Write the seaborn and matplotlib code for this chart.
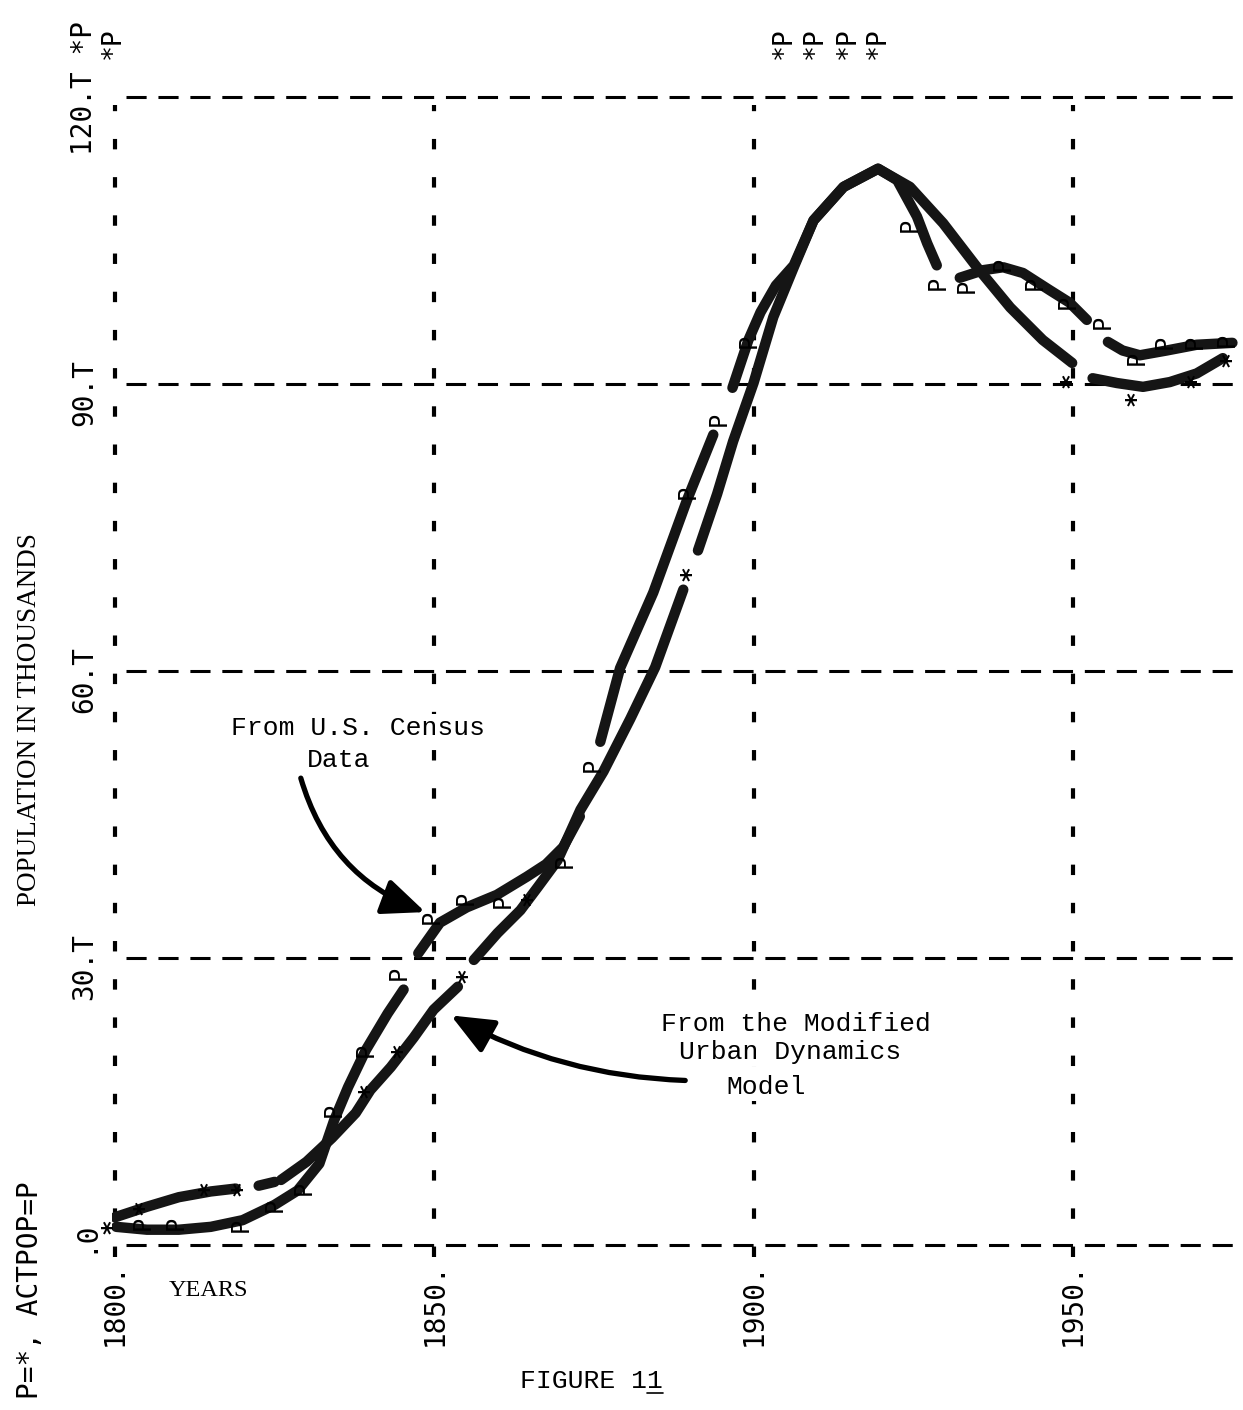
import matplotlib
matplotlib.use("Agg")
import matplotlib.pyplot as plt
from matplotlib import transforms
from matplotlib.lines import Line2D
import numpy as np
import pandas as pd
import seaborn as sns

# ---------------- data ----------------
# Model population (P, printed as "*"), hand-traced curve, pieces separated by segment id
model_year = [1800.0, 1805.0, 1810.0, 1815.0, 1818.9,
              1822.5, 1825.0,
              1826.0, 1830.0, 1834.0, 1837.7, 1840.0, 1843.2, 1846.8, 1849.9, 1853.7,
              1856.2, 1859.9, 1863.5, 1866.2, 1869.3, 1872.9, 1876.5, 1880.7, 1884.6, 1889.0,
              1891.3, 1894.3, 1896.8, 1900.0, 1903.1, 1906.3, 1909.4, 1914.1, 1919.5, 1924.5,
              1929.7, 1935.0, 1940.2, 1945.3, 1949.9,
              1953.1, 1956.9, 1961.0, 1965.2, 1969.4, 1973.5]
model_pop = [2.9, 4.0, 5.0, 5.6, 5.9,
             6.2, 6.6,
             6.8, 8.7, 11.2, 13.8, 16.2, 18.6, 21.7, 24.6, 27.0,
             29.8, 32.6, 35.0, 37.4, 40.2, 45.5, 49.5, 55.0, 60.4, 68.5,
             72.6, 78.5, 84.0, 90.1, 97.0, 102.2, 107.1, 110.6, 112.5, 110.6,
             106.8, 102.2, 98.0, 94.6, 92.2,
             90.6, 90.1, 89.7, 90.2, 91.1, 92.7]
model_seg = [0] * 5 + [1] * 2 + [2] * 9 + [3] * 10 + [4] * 15 + [5] * 6

# Actual population (ACTPOP, printed as "P"), hand-traced curve
actual_year = [1800.2, 1805.0, 1810.0, 1815.0, 1820.0, 1825.0, 1828.6, 1832.0, 1834.3,
               1836.5, 1839.3, 1842.7, 1845.2,
               1847.5, 1850.9, 1855.1, 1859.8, 1864.5, 1867.5, 1870.2, 1872.8,
               1876.0, 1879.1, 1884.3, 1889.6, 1893.7,
               1896.7, 1899.2, 1901.1, 1903.5, 1906.3, 1909.4, 1914.1, 1919.5, 1922.5,
               1925.6, 1927.2, 1928.7,
               1932.3, 1936.0, 1939.1, 1942.2, 1946.4, 1949.5, 1952.2,
               1955.5, 1957.8, 1960.5, 1964.7, 1969.4, 1975.0]
actual_pop = [1.9, 1.6, 1.6, 1.9, 2.6, 4.2, 5.7, 8.5, 13.0,
              16.5, 20.4, 24.2, 26.7,
              30.5, 33.7, 35.3, 36.6, 38.5, 39.8, 41.6, 44.8,
              52.6, 60.3, 68.2, 77.9, 84.7,
              89.6, 94.6, 97.5, 100.3, 102.4, 107.1, 110.6, 112.5, 111.3,
              107.5, 104.7, 102.4,
              101.1, 101.9, 102.2, 101.6, 99.8, 98.5, 96.7,
              94.4, 93.5, 93.0, 93.5, 94.1, 94.3]
actual_seg = [0] * 13 + [1] * 8 + [2] * 5 + [3] * 12 + [4] * 7 + [5] * 6

# printer symbols still visible on the plot
model_mark_year = [1799.7, 1804.7, 1814.9, 1820.1, 1840.0, 1845.2, 1855.3, 1865.5,
                   1890.4, 1950.0, 1960.2, 1969.6, 1975.0]
model_mark_pop = [2.0, 4.0, 6.0, 6.0, 16.2, 20.4, 28.2, 36.3,
                  70.2, 90.4, 88.5, 90.4, 92.6]
actual_mark_year = [1804.3, 1809.5, 1819.7, 1825.0, 1829.6, 1834.3, 1839.3, 1844.4,
                    1849.6, 1855.0, 1860.8, 1870.4, 1874.8, 1889.7, 1894.5, 1899.3,
                    1924.5, 1928.9, 1933.4, 1939.1, 1944.1, 1949.2, 1954.7, 1960.0,
                    1964.4, 1969.1, 1974.1]
actual_mark_pop = [2.3, 2.3, 2.1, 4.2, 6.0, 14.1, 20.4, 28.4,
                   34.3, 36.3, 36.0, 40.2, 50.2, 78.7, 86.4, 94.5,
                   106.6, 100.6, 100.3, 102.6, 100.6, 98.6, 96.5, 92.7,
                   94.4, 94.4, 94.6]

# overflow symbols printed above the top scale line
header_year = [1799.7, 1904.7, 1909.6, 1914.8, 1919.5]
header_text = ["*P", "*P", "*P", "*P", "*P"]

x_ticks = [1800, 1850, 1900, 1950]
x_tick_labels = ["1800.", "1850.", "1900.", "1950."]
y_ticks = [0, 30, 60, 90, 120]
y_tick_labels = [".0", "30.T", "60.T", "90.T", "120.T *P"]

# ---------------- styling ----------------
sns.set_theme(style="white")
plt.rcParams["font.family"] = ["DejaVu Sans"]
plt.rcParams["lines.scale_dashes"] = False

W, H = 1243, 1410
fig = plt.figure(figsize=(W / 100, H / 100), dpi=100)
left_px, right_px = 111.8, 1242.0
bot_px, top_px = 1256.5, 87.4
ax = fig.add_axes([left_px / W, 1 - bot_px / H, (right_px - left_px) / W, (bot_px - top_px) / H])
ax.set_xlim(1799.5, 1976.5)
ax.set_ylim(-1.2, 121.0)
for s in ax.spines.values():
    s.set_visible(False)
ax.set_facecolor("white")

mono = "DejaVu Sans Mono"
type_font = "Liberation Mono"
serif = "Liberation Serif"

# dashed printer grid
for yv in y_ticks:
    ax.axhline(yv, xmin=0.013, xmax=1.0, color="black", lw=2.2,
               ls=(0, (14.5, 8.5)), zorder=1)
for xv in x_ticks:
    ax.axvline(xv, ymin=0.0, ymax=0.985, color="black", lw=3.0,
               ls=(0, (7.5, 20.0)), zorder=1)

# hand-drawn curves
df_model = pd.DataFrame({"year": model_year, "pop": model_pop, "seg": model_seg})
df_actual = pd.DataFrame({"year": actual_year, "pop": actual_pop, "seg": actual_seg})
for df in (df_model, df_actual):
    sns.lineplot(data=df, x="year", y="pop", units="seg", estimator=None, sort=False,
                 color="#151515", linewidth=7.5, solid_capstyle="round",
                 legend=False, ax=ax, zorder=3)

# printer symbols
for xv, yv in zip(model_mark_year, model_mark_pop):
    ax.text(xv, yv, "*", rotation=90, ha="center", va="center", fontsize=19,
            family=mono, fontweight="bold", color="black", zorder=4)
for xv, yv in zip(actual_mark_year, actual_mark_pop):
    ax.text(xv, yv, "P", rotation=90, ha="center", va="center", fontsize=17,
            family=mono, color="black", zorder=4)
for xv, t in zip(header_year, header_text):
    ax.text(xv, 125.6, t, rotation=90, ha="center", va="center", fontsize=19,
            family=mono, color="black", clip_on=False)

# axis tick labels
ax.set_xticks(x_ticks, labels=x_tick_labels, rotation=90, fontsize=20, family=mono)
ax.tick_params(axis="x", length=0, pad=4, colors="black")
ax.set_yticks([])
ax.set_xlabel("")
ax.set_ylabel("")

fs_y = 20
adv = 0.602 * fs_y  # character advance in points
blend = transforms.blended_transform_factory(ax.transAxes, ax.transData)
for yv, lab in zip(y_ticks, y_tick_labels):
    k = lab.index(".")
    tr = transforms.offset_copy(blend, fig=fig, x=0, y=-(k + 0.5) * adv, units="points")
    ax.text(-0.0245, yv, lab, transform=tr, rotation=90, rotation_mode="anchor",
            ha="left", va="center", fontsize=fs_y, family=mono, color="black",
            clip_on=False)

# axis titles and caption
fig.text(30 / W, 1 - 720 / H, "POPULATION IN THOUSANDS", rotation=90, ha="center",
         va="center", fontsize=19.5, family=serif, color="black")
fig.text(30 / W, 1 - 1290 / H, "P=*, ACTPOP=P", rotation=90, ha="center",
         va="center", fontsize=20, family=mono, color="black")
fig.text(208 / W, 1 - 1291 / H, "YEARS", ha="center", va="center", fontsize=17.5,
         family=serif, color="black")
fig.text(591 / W, 1 - 1381 / H, "FIGURE 11", ha="center", va="center", fontsize=19,
         family=type_font, color="black")
fig.add_artist(Line2D([647 / W, 663 / W], [1 - 1393 / H, 1 - 1393 / H],
                      color="black", lw=1.2))

# annotations
box = dict(facecolor="white", edgecolor="none", pad=1.5)
ax.text(1838.1, 54.0, "From U.S. Census", ha="center", va="center", fontsize=19,
        family=type_font, color="black", bbox=box, zorder=5)
ax.text(1835.0, 50.7, "Data", ha="center", va="center", fontsize=19,
        family=type_font, color="black", bbox=box, zorder=5)
ax.annotate("", xy=(1848.6, 34.8), xytext=(1829.1, 48.8),
            arrowprops=dict(arrowstyle="-|>,head_length=1.3,head_width=0.55",
                            mutation_scale=20, lw=3.8, color="black",
                            connectionstyle="arc3,rad=0.25", shrinkA=0, shrinkB=0),
            zorder=5)

ax.text(1906.7, 23.1, "From the Modified", ha="center", va="center", fontsize=19,
        family=type_font, color="black", bbox=box, zorder=5)
ax.text(1905.7, 20.2, "Urban Dynamics", ha="center", va="center", fontsize=19,
        family=type_font, color="black", bbox=box, zorder=5)
ax.text(1902.0, 16.5, "Model", ha="center", va="center", fontsize=19,
        family=type_font, color="black", bbox=box, zorder=5)
ax.annotate("", xy=(1852.6, 24.0), xytext=(1889.3, 17.2),
            arrowprops=dict(arrowstyle="-|>,head_length=1.3,head_width=0.55",
                            mutation_scale=20, lw=3.8, color="black",
                            connectionstyle="arc3,rad=-0.12", shrinkA=0, shrinkB=0),
            zorder=5)

fig.savefig("out.png", dpi=100, facecolor="white")
